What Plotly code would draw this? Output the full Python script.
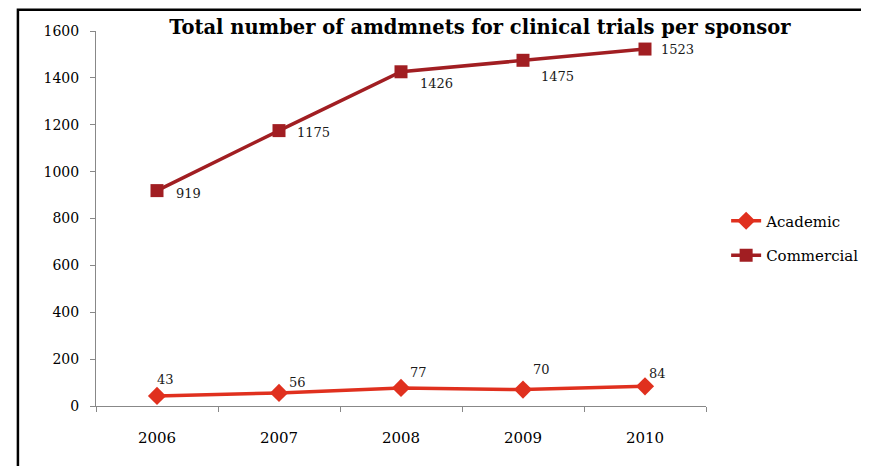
import plotly.graph_objects as go

years = ["2006", "2007", "2008", "2009", "2010"]
academic = [43, 56, 77, 70, 84]
commercial = [919, 1175, 1426, 1475, 1523]

# label offsets in pixels (dx, dy), dy positive = up
academic_shift = [(8, 16), (18, 10), (17, 15), (18, 20), (12, 13)]
commercial_shift = [(31, -3), (34, -2), (35, -12), (34, -16), (32, 0)]

ACAD = "#E0301E"
COMM = "#A11E22"
SERIF = "DejaVu Serif"

fig = go.Figure()

fig.add_trace(go.Scatter(
    x=years, y=academic, name="Academic", mode="lines+markers",
    line=dict(color=ACAD, width=3.5),
    marker=dict(symbol="diamond", size=14, color=ACAD),
    legendgroup="a",
))
fig.add_trace(go.Scatter(
    x=years, y=commercial, name="Commercial", mode="lines+markers",
    line=dict(color=COMM, width=3.5),
    marker=dict(symbol="square", size=13, color=COMM),
    legendgroup="c",
))

labels = []
for i, (v, (dx, dy)) in enumerate(zip(academic, academic_shift)):
    labels.append(dict(x=i, y=v, text=str(v), dx=dx, dy=dy))
for i, (v, (dx, dy)) in enumerate(zip(commercial, commercial_shift)):
    labels.append(dict(x=i, y=v, text=str(v), dx=dx, dy=dy))

annotations = [
    dict(x=l["x"], y=l["y"], xref="x", yref="y", text=l["text"], showarrow=False,
         xshift=l["dx"], yshift=l["dy"],
         font=dict(family=SERIF, size=13, color="#1a1a1a"))
    for l in labels
]

fig.update_layout(
    width=861, height=458,
    margin=dict(l=88, r=163, t=23, b=60, autoexpand=False),
    paper_bgcolor="white", plot_bgcolor="white",
    title=dict(text="<b>Total number of amdmnets for clinical trials per sponsor</b>",
               x=0.548, xanchor="center", y=0.9585, yanchor="middle",
               font=dict(family=SERIF, size=19.5, color="black")),
    legend=dict(x=1.033, y=0.448, xanchor="left", yanchor="middle",
                font=dict(family=SERIF, size=15, color="black"),
                tracegroupgap=12, bgcolor="rgba(0,0,0,0)"),
    showlegend=True,
    font=dict(family=SERIF, color="black"),
    annotations=annotations,
    # outer frame
    shapes=[dict(type="rect", xref="paper", yref="paper",
                 x0=-0.128, x1=1.4, y0=-0.4, y1=1.057,
                 line=dict(color="black", width=2.5))],
)
fig.update_xaxes(type="category", range=[-0.5, 4.5],
                 showline=True, linecolor="#888888", linewidth=1,
                 ticks="outside", tickson="boundaries", ticklen=5, tickcolor="#888888",
                 ticklabelstandoff=18, showgrid=False, zeroline=False,
                 tickfont=dict(family=SERIF, size=15, color="black"))
fig.update_yaxes(range=[0, 1600], dtick=200,
                 showline=True, linecolor="#888888", linewidth=1,
                 ticks="outside", ticklen=5, tickcolor="#888888",
                 ticklabelstandoff=8, showgrid=False, zeroline=False,
                 tickfont=dict(family=SERIF, size=14, color="black"))

fig.write_html("out.html")
